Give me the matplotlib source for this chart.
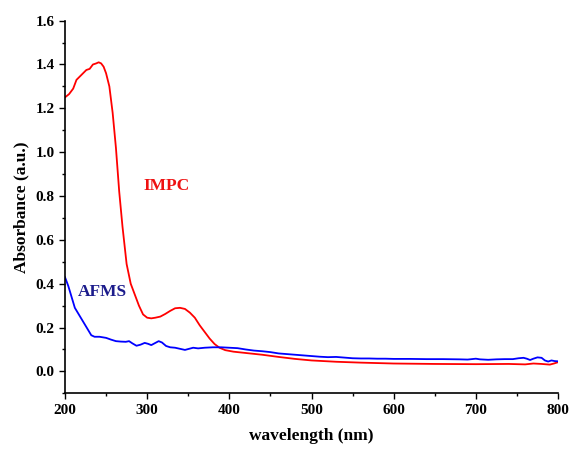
import numpy as np
import matplotlib
matplotlib.use("Agg")
import matplotlib.pyplot as plt
from matplotlib.ticker import MultipleLocator

plt.rcParams["font.family"] = "Liberation Serif"
plt.rcParams["font.weight"] = "bold"

# IMPC spectrum (red)
wl_impc = [200, 205, 210, 214, 218, 222, 226, 230, 234, 238, 241, 244, 247, 250,
           254, 258, 262, 266, 270, 275, 280, 285, 290, 295, 300, 305, 310, 316,
           322, 328, 334, 340, 346, 352, 358, 364, 370, 376, 382, 388, 395, 405,
           420, 440, 460, 480, 500, 530, 560, 600, 650, 700, 740, 760, 770, 780,
           790, 795, 800]
abs_impc = [1.25, 1.265, 1.29, 1.33, 1.345, 1.36, 1.375, 1.38, 1.40, 1.405, 1.41,
            1.405, 1.39, 1.36, 1.30, 1.18, 1.02, 0.82, 0.66, 0.49, 0.40, 0.35,
            0.30, 0.26, 0.245, 0.242, 0.245, 0.25, 0.262, 0.276, 0.288, 0.29,
            0.285, 0.268, 0.245, 0.21, 0.18, 0.15, 0.125, 0.108, 0.097, 0.090,
            0.084, 0.076, 0.066, 0.057, 0.050, 0.044, 0.040, 0.036, 0.034, 0.033,
            0.034, 0.032, 0.036, 0.034, 0.031, 0.036, 0.042]

# AFMS spectrum (blue)
wl_afms = [200, 204, 208, 212, 216, 220, 224, 228, 232, 236, 242, 250, 256, 262,
           268, 274, 278, 282, 287, 292, 297, 301, 305, 310, 314, 318, 323, 328,
           334, 340, 346, 350, 356, 362, 370, 380, 390, 400, 410, 420, 430, 440,
           450, 460, 470, 480, 490, 500, 510, 520, 530, 540, 550, 560, 570, 580,
           590, 600, 620, 640, 660, 680, 690, 700, 705, 715, 725, 735, 745, 752,
           758, 762, 766, 770, 775, 780, 784, 788, 792, 796, 800]
abs_afms = [0.43, 0.39, 0.34, 0.29, 0.265, 0.24, 0.215, 0.19, 0.165, 0.158, 0.158,
            0.153, 0.145, 0.138, 0.136, 0.135, 0.138, 0.128, 0.117, 0.122, 0.130,
            0.126, 0.120, 0.130, 0.138, 0.132, 0.116, 0.110, 0.108, 0.103, 0.098,
            0.102, 0.108, 0.105, 0.108, 0.110, 0.110, 0.108, 0.106, 0.100, 0.095,
            0.092, 0.088, 0.082, 0.079, 0.076, 0.073, 0.070, 0.067, 0.065, 0.066,
            0.063, 0.060, 0.059, 0.059, 0.058, 0.058, 0.057, 0.057, 0.056, 0.056,
            0.055, 0.054, 0.058, 0.055, 0.053, 0.055, 0.056, 0.056, 0.060, 0.062,
            0.058, 0.052, 0.058, 0.064, 0.062, 0.050, 0.045, 0.050, 0.047, 0.046]

fig = plt.figure(figsize=(5.7, 4.49), dpi=100)
ax = fig.add_axes([0.114, 0.124, 0.865, 0.830])

ax.plot(wl_impc, abs_impc, color='#ff0000', lw=1.3)
ax.plot(wl_afms, abs_afms, color='#0000ff', lw=1.3)

ax.text(324, 0.845, 'IMPC', color='#ee1111', fontsize=12.5, fontweight='bold',
        ha='center', va='center')
ax.text(245, 0.36, 'AFMS', color='#1c1c8c', fontsize=12.5, fontweight='bold',
        ha='center', va='center')

ax.set_xlim(200, 800)
ax.set_ylim(-0.1, 1.6)
ax.xaxis.set_major_locator(MultipleLocator(100))
ax.xaxis.set_minor_locator(MultipleLocator(50))
ax.yaxis.set_major_locator(MultipleLocator(0.2))
ax.yaxis.set_minor_locator(MultipleLocator(0.1))
ax.yaxis.set_major_formatter(plt.FormatStrFormatter('%.1f'))
ax.tick_params(which='major', direction='out', length=4, width=1, labelsize=11)
ax.tick_params(which='minor', direction='out', length=2.5, width=1)
for lab in ax.get_xticklabels() + ax.get_yticklabels():
    lab.set_fontweight('bold')

ax.spines['top'].set_visible(False)
ax.spines['right'].set_visible(False)
ax.spines['left'].set_linewidth(1.2)
ax.spines['bottom'].set_linewidth(1.2)

ax.set_xlabel('wavelength (nm)', fontsize=12.5, fontweight='bold', labelpad=8)
ax.set_ylabel('Absorbance (a.u.)', fontsize=12.5, fontweight='bold', labelpad=4)

plt.savefig("out.png", dpi=100)
